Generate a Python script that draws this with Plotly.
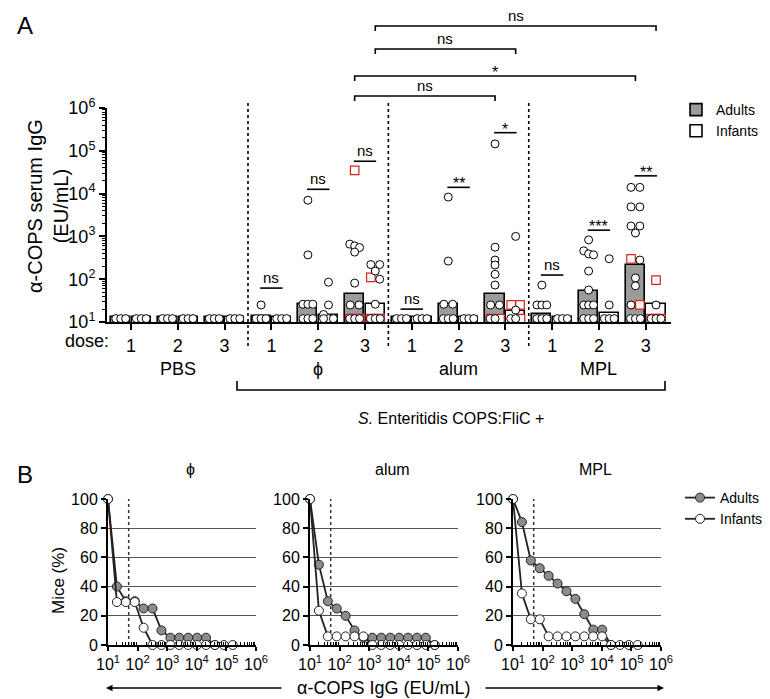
import math
import plotly.graph_objects as go

W, H = 770, 699
FONT = "Liberation Sans, Arial, Helvetica, sans-serif"

# ---------------- Panel A data ----------------
adjuvants = ["PBS", "ϕ", "alum", "MPL"]
dose_labels = ["1", "2", "3"]
LOD = 12  # detection-limit value (plotted on the axis)

# geometric mean titres (bar heights), order: PBS1..3, phi1..3, alum1..3, MPL1..3
adult_gmt = [13, 13, 13, 13.5, 26, 45, 13, 26, 45, 15, 53, 215]
infant_gmt = [13, 13, 13, 13, 14.5, 26, 13, 13, 18, 13, 16, 26]

adult_circles = [
    [12, 12, 12], [12, 12, 12], [12, 12, 12],
    [25, 12, 12, 12],
    [7000, 370, 26, 26, 26, 12, 12, 12],
    [660, 600, 550, 430, 81, 25, 25, 12, 12, 12],
    [12, 12, 12],
    [8300, 265, 26, 26, 12, 12, 12],
    [145000, 560, 280, 215, 130, 73, 25, 25, 12, 12],
    [73, 25, 25, 25, 12, 12, 12],
    [830, 460, 390, 370, 155, 56, 25, 25, 25, 12, 12, 12],
    [14000, 14000, 4900, 4900, 1750, 1750, 1200, 280, 107, 70, 25, 12, 12, 12],
]
adult_squares = [[], [], [], [], [], [35000, 12, 12, 12], [], [], [12, 12], [], [], [300, 25]]

infant_circles = [
    [12, 12, 12], [12, 12, 12], [12, 12, 12],
    [12, 12, 12],
    [85, 25, 15, 12, 12, 12],
    [220, 220, 155, 100, 26, 12, 12, 12],
    [12, 12, 12],
    [12, 12, 12],
    [1000, 19, 12, 12],
    [12, 12, 12],
    [300, 25, 12, 12, 12],
    [25, 12, 12, 12],
]
infant_squares = [[], [], [], [], [], [110, 12, 12, 12], [], [], [25, 25, 12], [], [], [95, 12, 12, 12]]

# adult vs infant significance per group (None = no test shown) and height of the label bar
sig_labels = [None, None, None, "ns", "ns", "ns", "ns", "**", "*", "ns", "***", "**"]
sig_levels = [None, None, None, 62, 12600, 57000, 20, 14000, 265000, 125, 1400, 26000]

# ---------------- Panel B data ----------------
titer_steps = [10, 20, 40, 80, 160, 320, 640, 1280, 2560, 5120, 10240, 20480, 40960, 81920, 163840]
phi_adults = [100, 40, 30, 30, 25, 25, 10, 5, 5, 5, 5, 5, 0]
phi_infants = [100, 29.4, 29.4, 29.4, 11.8, 0, 0, 0, 0, 0, 0, 0, 0, 0, 0]
alum_adults = [100, 55, 30, 25, 20, 10, 5, 5, 5, 5, 5, 5, 5, 5, 0]
alum_infants = [100, 23.5, 5.9, 5.9, 5.9, 5.9, 5.9, 0, 0, 0, 0, 0, 0, 0, 0]
mpl_adults = [100, 84.2, 57.9, 52.6, 47.4, 42.1, 36.8, 31.6, 21.1, 10.5, 10.5, 0]
mpl_infants = [100, 35.3, 17.6, 17.6, 5.9, 5.9, 5.9, 5.9, 5.9, 5.9, 5.9, 0, 0, 0, 0]
detection_cutoff = 50
percent_ticks = [0, 20, 40, 60, 80, 100]


# ---------------- helpers ----------------
def px(x):
    return x / W


def py(y):
    return 1 - y / H


A_X0, A_X1 = 99, 663
A_YTOP, A_YBOT = 100, 314
A_XRANGE = [-0.513, 11.54]
BAR_OFF = 0.22
BAR_W = 0.41
COL = 0.105


def a_ypaper(v):
    frac = (math.log10(v) - 1) / 5
    return py(A_YBOT) + frac * (py(A_YTOP) - py(A_YBOT))


def a_xpaper(xv):
    return px(A_X0 + (xv - A_XRANGE[0]) / (A_XRANGE[1] - A_XRANGE[0]) * (A_X1 - A_X0))


def swarm(values, center):
    order = sorted(range(len(values)), key=lambda k: -values[k])
    xs = [center] * len(values)
    clusters = []
    for k in order:
        lv = math.log10(values[k])
        if clusters and abs(clusters[-1][0] - lv) < 0.1:
            clusters[-1][1].append(k)
        else:
            clusters.append([lv, [k]])
    for lv, members in clusters:
        n = len(members)
        if n == 1:
            offs = [0]
        elif n == 2:
            offs = [-0.9, 0.9]
        else:
            offs = [(-1, 0, 1)[j % 3] for j in range(n)]
        for j, k in enumerate(members):
            xs[k] = center + offs[j] * COL
    return xs


fig = go.Figure()
idx = list(range(len(adult_gmt)))

fig.add_trace(go.Bar(x=[i - BAR_OFF for i in idx], y=adult_gmt, width=BAR_W, name="Adults",
                     marker=dict(color="#9b9b9b", line=dict(color="black", width=1.6)),
                     legend="legend", xaxis="x", yaxis="y"))
fig.add_trace(go.Bar(x=[i + BAR_OFF for i in idx], y=infant_gmt, width=BAR_W, name="Infants",
                     marker=dict(color="white", line=dict(color="black", width=1.6)),
                     legend="legend", xaxis="x", yaxis="y"))

sq_x, sq_y, c_x, c_y = [], [], [], []
for i in idx:
    for circles, squares, off in ((adult_circles[i], adult_squares[i], -BAR_OFF),
                                  (infant_circles[i], infant_squares[i], BAR_OFF)):
        vals = circles + squares
        xs = swarm(vals, i + off)
        c_x += xs[:len(circles)]
        c_y += circles
        sq_x += xs[len(circles):]
        sq_y += squares

fig.add_trace(go.Scatter(x=sq_x, y=sq_y, mode="markers", showlegend=False, cliponaxis=False,
                         marker=dict(symbol="square", size=8.5, color="white",
                                     line=dict(color="#e0201b", width=1.2)),
                         xaxis="x", yaxis="y"))
fig.add_trace(go.Scatter(x=c_x, y=c_y, mode="markers", showlegend=False, cliponaxis=False,
                         marker=dict(symbol="circle", size=8, color="white",
                                     line=dict(color="black", width=1)),
                         xaxis="x", yaxis="y"))

# ---------------- Panel B traces ----------------
panelB = [("x2", "y2", phi_adults, phi_infants),
          ("x3", "y3", alum_adults, alum_infants),
          ("x4", "y4", mpl_adults, mpl_infants)]
for k, (xa, ya, ad, inf) in enumerate(panelB):
    fig.add_trace(go.Scatter(x=[detection_cutoff, detection_cutoff], y=[0, 100], mode="lines",
                             line=dict(color="#333333", width=1.5, dash="dot"), showlegend=False,
                             xaxis=xa, yaxis=ya, hoverinfo="skip"))
    fig.add_trace(go.Scatter(x=titer_steps[:len(ad)], y=ad, mode="lines+markers", name="Adults",
                             showlegend=(k == 0), legend="legend2", cliponaxis=False,
                             line=dict(color="#222222", width=1.8),
                             marker=dict(size=9, color="#8c8c8c", line=dict(color="#222222", width=1)),
                             xaxis=xa, yaxis=ya))
    fig.add_trace(go.Scatter(x=titer_steps[:len(inf)], y=inf, mode="lines+markers", name="Infants",
                             showlegend=(k == 0), legend="legend2", cliponaxis=False,
                             line=dict(color="#222222", width=1.8),
                             marker=dict(size=9, color="white", line=dict(color="#222222", width=1)),
                             xaxis=xa, yaxis=ya))

# ---------------- axes ----------------
sup = lambda k: f"10<sup>{k}</sup>"
log_major = [10 ** k for k in range(1, 7)]
log_minor = [m * 10 ** k for k in range(1, 6) for m in range(2, 10)]

axis_line = dict(showline=True, linewidth=2, linecolor="black", zeroline=False, mirror=False,
                 automargin=False)

layout = dict(
    width=W, height=H, margin=dict(l=0, r=0, t=0, b=0, autoexpand=False),
    paper_bgcolor="white", plot_bgcolor="white",
    font=dict(family=FONT, color="black", size=16),
    barmode="overlay", bargap=0,
    xaxis=dict(domain=[px(A_X0), px(A_X1)], range=A_XRANGE, anchor="y",
               tickmode="array", tickvals=idx, ticktext=dose_labels * 4,
               ticks="outside", ticklen=6, tickwidth=2, tickcolor="black",
               tickfont=dict(size=18), showgrid=False, **axis_line),
    yaxis=dict(domain=[py(A_YBOT), py(A_YTOP)], type="log", range=[1, 6], anchor="x",
               tickmode="array", tickvals=log_major, ticktext=[sup(k) for k in range(1, 7)],
               ticks="outside", ticklen=6, tickwidth=2, tickcolor="black",
               minor=dict(tickmode="array", tickvals=log_minor, ticks="outside", ticklen=3,
                          tickwidth=1, tickcolor="black", showgrid=False),
               tickfont=dict(size=18), showgrid=False, **axis_line),
    legend=dict(x=px(668), y=py(86), xanchor="left", yanchor="top", font=dict(size=14),
                bgcolor="rgba(0,0,0,0)", itemclick=False),
    legend2=dict(x=px(672), y=py(474), xanchor="left", yanchor="top", font=dict(size=14),
                 bgcolor="rgba(0,0,0,0)", itemclick=False),
)

b_domains = [(100, 248), (302, 450), (505, 653)]
for k, (x0, x1) in enumerate(b_domains):
    n = k + 2
    layout[f"xaxis{n}"] = dict(domain=[px(x0), px(x1)], type="log", range=[1, 6], anchor=f"y{n}",
                               tickmode="array", tickvals=log_major, ticktext=[sup(j) for j in range(1, 7)],
                               ticks="outside", ticklen=4, tickwidth=1.5, tickcolor="black",
                               minor=dict(tickmode="array", tickvals=log_minor, ticks="inside", ticklen=3,
                                          tickwidth=1, tickcolor="black", showgrid=False),
                               tickfont=dict(size=16), showgrid=False, **axis_line)
    layout[f"yaxis{n}"] = dict(domain=[py(637), py(491)], range=[0, 100], anchor=f"x{n}",
                               tickmode="array", tickvals=percent_ticks,
                               ticks="outside", ticklen=5, tickwidth=1.5, tickcolor="black",
                               tickfont=dict(size=16), showgrid=True, gridcolor="#555555",
                               gridwidth=1.3, **axis_line)

fig.update_layout(**layout)

# ---------------- annotations & shapes ----------------
ann = []
shapes = []


def text(x, y, s, size=16, **kw):
    d = dict(x=x, y=y, xref="paper", yref="paper", text=s, showarrow=False,
             xanchor="center", yanchor="middle",
             font=dict(size=size, family=FONT, color="black"))
    d.update(kw)
    ann.append(d)


text(px(17), py(17), "A", size=24)
text(px(17), py(466), "B", size=24)

# y title panel A
text(px(40), py(198), "α-COPS serum IgG<br>(EU/mL)", size=20, textangle=-90)
text(px(79), py(333), "dose:", size=18)

for g, name in enumerate(adjuvants):
    text(a_xpaper(3 * g + 1), py(361), name, size=18)

text(px(443), py(410), "<i>S.</i> Enteritidis COPS:FliC +", size=16)

# bracket under phi/alum/MPL
shapes.append(dict(type="path", xref="paper", yref="paper",
                   path=f"M {px(229)} {py(373)} L {px(229)} {py(382)} L {px(657)} {py(382)} L {px(657)} {py(373)}",
                   line=dict(color="black", width=1.6)))

# dotted separators
for sep in (2.5, 5.5, 8.5):
    shapes.append(dict(type="line", xref="x", yref="paper", x0=sep, x1=sep, y0=py(338), y1=py(95),
                       line=dict(color="black", width=1.6, dash="dot")))

# adult vs infant significance
for i, (lab, lev) in enumerate(zip(sig_labels, sig_levels)):
    if lab is None:
        continue
    yp = a_ypaper(lev)
    shapes.append(dict(type="line", xref="x", yref="paper", x0=i - 0.24, x1=i + 0.24, y0=yp, y1=yp,
                       line=dict(color="black", width=1.6)))
    star = lab.startswith("*")
    text(a_xpaper(i), yp, lab, size=16 if star else 15, yanchor="bottom",
         yshift=-7 if star else 0)

# cross-adjuvant comparisons (dose 3)
cross = [(-BAR_OFF, 5, 8, 88, "ns"), (-BAR_OFF, 5, 11, 68, "*"),
         (BAR_OFF, 5, 8, 41, "ns"), (BAR_OFF, 5, 11, 18, "ns")]
for off, g0, g1, ypix, lab in cross:
    xa, xb = a_xpaper(g0 + off), a_xpaper(g1 + off)
    shapes.append(dict(type="path", xref="paper", yref="paper",
                       path=f"M {xa} {py(ypix + 5)} L {xa} {py(ypix)} L {xb} {py(ypix)} L {xb} {py(ypix + 5)}",
                       line=dict(color="black", width=1.6)))
    star = lab.startswith("*")
    text((xa + xb) / 2, py(ypix), lab, size=16 if star else 15, yanchor="bottom",
         yshift=-7 if star else 0)

# Panel B titles
for (x0, x1), name in zip(b_domains, ["ϕ", "alum", "MPL"]):
    text(px((x0 + x1) / 2 + 8), py(461), name, size=16)

text(px(50), py(572), "Mice (%)", size=17, textangle=-90)

# bottom double arrow with label
text(px(375), py(680), "α-COPS IgG (EU/mL)", size=18)
ann.append(dict(x=px(98), y=py(680), xref="paper", yref="paper", ax=177, ay=0, text="",
                showarrow=True, arrowhead=2, arrowsize=1, arrowwidth=1.3, arrowcolor="black"))
ann.append(dict(x=px(656), y=py(680), xref="paper", yref="paper", ax=-180, ay=0, text="",
                showarrow=True, arrowhead=2, arrowsize=1, arrowwidth=1.3, arrowcolor="black"))

fig.update_layout(annotations=ann, shapes=shapes)
fig.write_html("out.html")
